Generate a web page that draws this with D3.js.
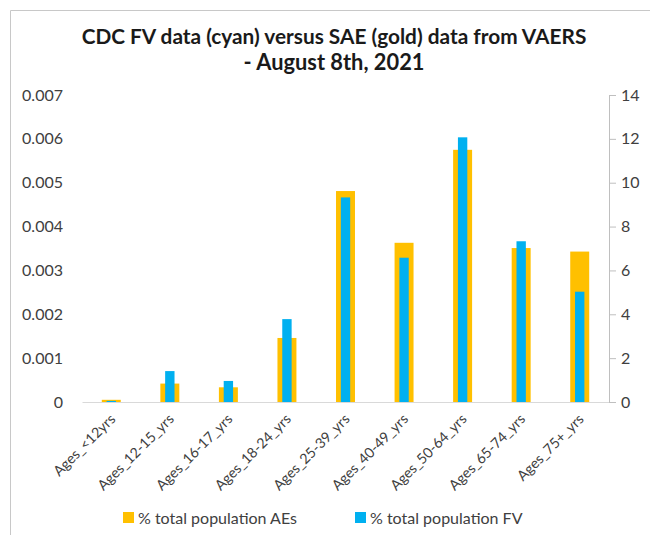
<!DOCTYPE html>
<html><head><meta charset="utf-8">
<script src="https://cdn.jsdelivr.net/npm/d3@7"></script>
<style>
body{margin:0;background:#fff}
svg{display:block}
text{font-family:Lato,"Open Sans",sans-serif}
</style>
</head><body>
<svg id="c" width="650" height="535"></svg>
<script>
const categories = ["Ages_<12yrs","Ages_12-15_yrs","Ages_16-17_yrs","Ages_18-24_yrs","Ages_25-39_yrs","Ages_40-49_yrs","Ages_50-64_yrs","Ages_65-74_yrs","Ages_75+_yrs"];
const aeValues = [0.00005,0.00042,0.000335,0.00146,0.00481,0.00363,0.00575,0.00351,0.00343];
const fvValues = [0.05,1.41,0.96,3.78,9.33,6.58,12.07,7.33,5.03];
const leftTicks = [0,0.001,0.002,0.003,0.004,0.005,0.006,0.007];
const rightTicks = [0,2,4,6,8,10,12,14];
const titleLines = ["CDC FV data (cyan) versus SAE (gold) data from VAERS","- August 8th, 2021"];
const seriesNames = ["% total population AEs","% total population FV"];
const seriesColors = ["#FFC000","#00B0F0"];

const svg = d3.select("#c");
const X0 = 82, X1 = 609, Y0 = 402, Y1 = 95;

// frame border
svg.append("path").attr("d","M10.5,535V10.5H650").attr("fill","none").attr("stroke","#c8c8c8").attr("stroke-width",1);

const xGold = d3.scaleBand().domain(categories).range([X0,X1]).paddingInner(0.676).paddingOuter(0.338);
const xBlue = d3.scaleBand().domain(categories).range([X0,X1]).paddingInner(0.84).paddingOuter(0.42);
const xCat = d3.scaleBand().domain(categories).range([X0,X1]);
const yL = d3.scaleLinear().domain([0,0.007]).range([Y0,Y1]);
const yR = d3.scaleLinear().domain([0,14]).range([Y0,Y1]);

// bars
svg.append("g").selectAll("rect").data(aeValues).join("rect")
  .attr("x",(d,i)=>xGold(categories[i])).attr("width",xGold.bandwidth())
  .attr("y",d=>yL(d)).attr("height",d=>Y0-yL(d))
  .attr("fill",seriesColors[0]);
svg.append("g").selectAll("rect").data(fvValues).join("rect")
  .attr("x",(d,i)=>xBlue(categories[i])).attr("width",xBlue.bandwidth())
  .attr("y",d=>yR(d)).attr("height",d=>Y0-yR(d))
  .attr("fill",seriesColors[1]);

// x axis
const gx = svg.append("g").attr("transform",`translate(0,${Y0})`)
  .call(d3.axisBottom(xCat).tickSize(0).tickSizeOuter(0));
gx.select(".domain").attr("stroke","#d9d9d9");
const xt = gx.selectAll("text").attr("fill","#404040").attr("font-size",13)
  .attr("text-anchor","end").attr("y",0).attr("dy",0)
  .attr("transform","translate(5,18) rotate(-45)");
const ref = xt.filter(d=>d===categories[1]).node();
const fs = 13*101/ref.getComputedTextLength();
xt.attr("font-size",fs);

// left axis
const gl = svg.append("g").attr("transform",`translate(${X0},0)`)
  .call(d3.axisLeft(yL).tickValues(leftTicks).tickSize(0).tickPadding(19)
    .tickFormat(d=>d===0?"0":d3.format(".3f")(d)));
gl.select(".domain").remove();
gl.selectAll("text").attr("fill","#404040").attr("font-size",16);

// right axis
const gr = svg.append("g").attr("transform",`translate(${X1},0)`)
  .call(d3.axisRight(yR).tickValues(rightTicks).tickSize(7).tickSizeOuter(7).tickPadding(5));
gr.select(".domain").attr("stroke","#bfbfbf");
gr.selectAll(".tick line").attr("stroke","#bfbfbf");
gr.selectAll("text").attr("fill","#404040").attr("font-size",16);

// title
const tw = [505, 181];
titleLines.forEach((t,i)=>{
  const el = svg.append("text").attr("x",334).attr("y",44+i*26).attr("text-anchor","middle")
    .attr("font-weight","bold").attr("font-size",19).attr("fill","#1a1a1a").text(t);
  const w = el.node().getComputedTextLength();
  el.attr("font-size",19*tw[i]/w);
});

// legend
const lx = [123,355];
seriesNames.forEach((n,i)=>{
  svg.append("rect").attr("x",lx[i]).attr("y",512).attr("width",11).attr("height",11).attr("fill",seriesColors[i]);
  svg.append("text").attr("x",lx[i]+15).attr("y",523.5).attr("font-size",16).attr("fill","#404040").text(n);
});
</script>
</body></html>
